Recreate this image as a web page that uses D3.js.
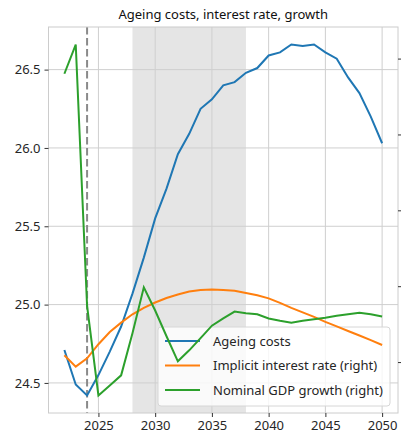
<!DOCTYPE html>
<html><head><meta charset="utf-8">
<script src="https://cdn.jsdelivr.net/npm/d3@7"></script>
<style>
body{margin:0;background:#fff;}
text{font-family:"Noto Sans",sans-serif;}
</style></head>
<body><svg id="c" width="401" height="441"></svg>
<script>
const years = d3.range(2022, 2051);
const ageingCosts = [24.71,24.49,24.42,24.55,24.70,24.86,25.07,25.30,25.55,25.74,25.96,26.09,26.25,26.31,26.40,26.42,26.48,26.51,26.59,26.61,26.66,26.65,26.66,26.61,26.57,26.45,26.35,26.20,26.03];
const interestRate = [2.18,1.88,2.10,2.47,2.79,3.04,3.26,3.43,3.57,3.69,3.78,3.86,3.90,3.91,3.90,3.88,3.82,3.76,3.68,3.56,3.43,3.31,3.19,3.06,2.94,2.82,2.70,2.58,2.45];
const gdpGrowth = [9.60,10.37,3.48,1.12,1.38,1.65,2.76,3.97,3.36,2.68,2.02,2.31,2.63,2.96,3.15,3.33,3.29,3.26,3.15,3.09,3.04,3.09,3.13,3.17,3.22,3.26,3.30,3.26,3.20];
const xTicks = [2025,2030,2035,2040,2045,2050];
const leftTicks = [24.5,25.0,25.5,26.0,26.5];
const rightTicks = [2,4,6,8,10];
const shadeRange = [2028,2038];
const markerYear = 2024;
const title = "Ageing costs, interest rate, growth";
const legendLabels = ["Ageing costs","Implicit interest rate (right)","Nominal GDP growth (right)"];
const colors = ["#1f77b4","#ff7f0e","#2ca02c"];

const L=48.5, R=398, T=27, B=413;
function pad(ext){const r=ext[1]-ext[0];return [ext[0]-0.05*r, ext[1]+0.05*r];}
const x = d3.scaleLinear().domain(pad(d3.extent(years))).range([L,R]);
const yL = d3.scaleLinear().domain(pad(d3.extent(ageingCosts))).range([B,T]);
const yR = d3.scaleLinear().domain(pad(d3.extent(interestRate.concat(gdpGrowth)))).range([B,T]);

const svg = d3.select("#c");
// shading
svg.append("rect").attr("x",x(shadeRange[0])).attr("y",T).attr("width",x(shadeRange[1])-x(shadeRange[0])).attr("height",B-T).attr("fill","#e5e5e5");
// grid
const g = svg.append("g");
g.selectAll(".vg").data(xTicks).join("line").attr("x1",d=>x(d)).attr("x2",d=>x(d)).attr("y1",T).attr("y2",B).attr("stroke","#cfcfcf").attr("stroke-width",1);
g.selectAll(".hg").data(leftTicks).join("line").attr("x1",L).attr("x2",R).attr("y1",d=>yL(d)).attr("y2",d=>yL(d)).attr("stroke","#cfcfcf").attr("stroke-width",1);
// marker line
svg.append("line").attr("x1",x(markerYear)).attr("x2",x(markerYear)).attr("y1",T).attr("y2",B).attr("stroke","#8a8a8a").attr("stroke-width",2).attr("stroke-dasharray","7.5,3.5");
// frame
svg.append("rect").attr("x",L).attr("y",T).attr("width",R-L).attr("height",B-T).attr("fill","none").attr("stroke","#cccccc").attr("stroke-width",1);
// axes
function styleAxis(sel){sel.select(".domain").remove();sel.selectAll(".tick line").attr("stroke","#333");sel.selectAll("text").attr("fill","#262626").style("font-size","13px");}
svg.append("g").attr("transform",`translate(0,${B})`).call(d3.axisBottom(x).tickValues(xTicks).tickFormat(d3.format("d")).tickSize(4).tickPadding(4)).call(styleAxis);
svg.append("g").attr("transform",`translate(${L},0)`).call(d3.axisLeft(yL).tickValues(leftTicks).tickFormat(d3.format(".1f")).tickSize(4).tickPadding(4)).call(styleAxis);
// right axis: its labels fall outside the picture in the reference, so only the ticks are shown
svg.append("g").attr("transform",`translate(${R},0)`).call(d3.axisRight(yR).tickValues(rightTicks).tickFormat("").tickSize(4)).call(styleAxis);
// blue line
const line = (ys,sc)=>d3.line().x((d,i)=>x(years[i])).y(d=>sc(d))(ys);
svg.append("path").attr("d",line(ageingCosts,yL)).attr("fill","none").attr("stroke",colors[0]).attr("stroke-width",2);
// legend
const lg = svg.append("g").attr("transform","translate(158,327)");
lg.append("rect").attr("width",232).attr("height",79).attr("rx",3).attr("fill","rgba(255,255,255,0.8)").attr("stroke","#d6d6d6");
legendLabels.forEach((t,i)=>{
  const yy = 14+i*24.5;
  lg.append("line").attr("x1",7).attr("x2",42).attr("y1",yy).attr("y2",yy).attr("stroke",colors[i]).attr("stroke-width",2);
  lg.append("text").attr("x",55).attr("y",yy).attr("dy","0.35em").attr("fill","#262626").style("font-size","13px").text(t);
});
// right-axis lines
svg.append("path").attr("d",line(interestRate,yR)).attr("fill","none").attr("stroke",colors[1]).attr("stroke-width",2);
svg.append("path").attr("d",line(gdpGrowth,yR)).attr("fill","none").attr("stroke",colors[2]).attr("stroke-width",2);
// title
svg.append("text").attr("x",(L+R)/2).attr("y",19).attr("text-anchor","middle").attr("fill","#111").style("font-size","13px").text(title);
</script></body></html>
